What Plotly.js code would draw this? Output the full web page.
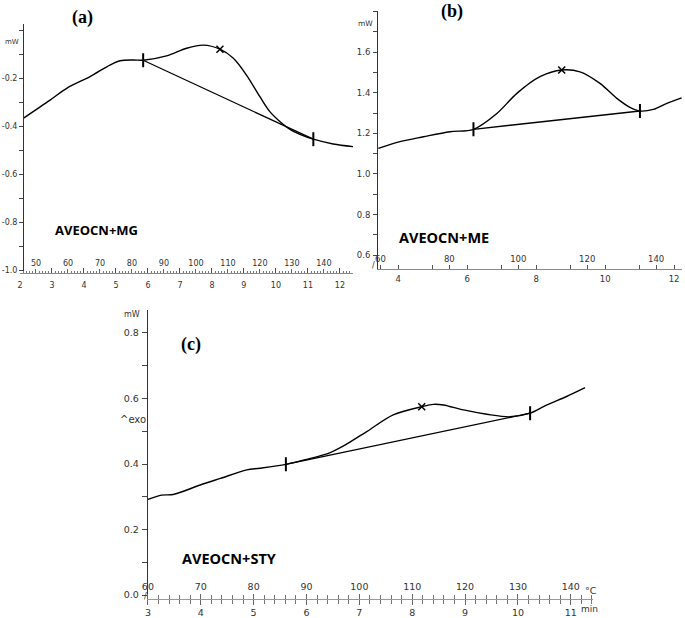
<!DOCTYPE html>
<html><head><meta charset="utf-8">
<script src="https://cdn.plot.ly/plotly-3.0.1.min.js"></script>
<style>html,body{margin:0;padding:0;background:#fff}#chart{width:685px;height:618px}</style>
</head><body><div id="chart"></div>
<script>
// ---------- Panel (a): AVEOCN+MG ----------
const timeA = [2.10,2.94,3.46,4.19,4.81,5.13,5.54,5.85,6.58,7.21,7.73,8.25,8.67,9.08,9.50,9.81,10.13,10.44,10.75,11.17,11.79,12.42];
const mwA   = [-0.368,-0.292,-0.243,-0.194,-0.146,-0.128,-0.125,-0.126,-0.108,-0.076,-0.063,-0.080,-0.118,-0.188,-0.278,-0.340,-0.382,-0.414,-0.435,-0.455,-0.475,-0.486];
const baseTimeA = [5.85,11.17];
const baseMwA   = [-0.126,-0.455];
const limitTimeA = [5.85,11.17];
const limitMwA   = [-0.126,-0.455];
const peakTimeA = [8.25];
const peakMwA   = [-0.080];
const timeTicksA = [2,3,4,5,6,7,8,9,10,11,12];
const tempTicksA = [50,60,70,80,90,100,110,120,130,140];
const yTicksA = [-1.0,-0.8,-0.6,-0.4,-0.2,0.0];
const yTextA  = ['-1.0','-0.8','-0.6','-0.4','-0.2',''];
const tempOffsetA = 25;

// ---------- Panel (b): AVEOCN+ME ----------
const timeB = [3.42,4.05,4.73,5.50,6.18,6.86,7.44,8.11,8.74,9.27,9.85,10.34,10.72,11.01,11.40,11.79,12.22];
const mwB   = [1.126,1.159,1.183,1.208,1.220,1.298,1.397,1.479,1.512,1.503,1.446,1.372,1.328,1.310,1.318,1.348,1.375];
const baseTimeB = [6.18,11.01];
const baseMwB   = [1.220,1.310];
const limitTimeB = [6.18,11.01];
const limitMwB   = [1.220,1.310];
const peakTimeB = [8.74];
const peakMwB   = [1.512];
const timeTicksB = [4,6,8,10,12];
const tempTicksB = [60,80,100,120,140];
const yTicksB = [0.6,0.8,1.0,1.2,1.4,1.6];
const tempOffsetB = 25.2;

// ---------- Panel (c): AVEOCN+STY ----------
const timeC = [3.00,3.26,3.48,3.99,4.37,4.87,5.12,5.61,6.00,6.45,6.70,7.14,7.64,8.18,8.40,8.59,8.97,9.41,9.85,10.23,10.54,10.92,11.27];
const mwC   = [0.292,0.305,0.307,0.336,0.356,0.382,0.387,0.399,0.414,0.435,0.455,0.499,0.550,0.575,0.582,0.580,0.565,0.552,0.544,0.555,0.580,0.606,0.633];
const baseTimeC = [5.61,10.23];
const baseMwC   = [0.399,0.555];
const limitTimeC = [5.61,10.23];
const limitMwC   = [0.399,0.555];
const peakTimeC = [8.18];
const peakMwC   = [0.575];
const timeTicksC = [3,4,5,6,7,8,9,10,11];
const tempTicksC = [60,70,80,90,100,110,120,130,140];
const yTicksC = [0.0,0.2,0.4,0.6,0.8];
const tempOffsetC = 30;

const heatingRate = 10; // °C per min

// ---------- helpers ----------
const W = 685, H = 618;
const PX = x => x / W;
const PY = y => 1 - y / H;
const tickFont = s => ({family: 'DejaVu Sans, Verdana, sans-serif', size: s, color: '#333'});
const lineCol = '#000';

function curve(x, y, xa, ya) {
  return {x, y, xaxis: xa, yaxis: ya, type: 'scatter', mode: 'lines',
          line: {color: lineCol, width: 1.4, shape: 'spline', smoothing: 0.9}, hoverinfo: 'skip', showlegend: false};
}
function base(x, y, xa, ya) {
  return {x, y, xaxis: xa, yaxis: ya, type: 'scatter', mode: 'lines',
          line: {color: lineCol, width: 1.3}, hoverinfo: 'skip', showlegend: false};
}
function limits(x, y, xa, ya) {
  return {x, y, xaxis: xa, yaxis: ya, type: 'scatter', mode: 'markers',
          marker: {symbol: 'line-ns', size: 10, line: {color: lineCol, width: 2}}, hoverinfo: 'skip', showlegend: false};
}
function peak(x, y, xa, ya) {
  return {x, y, xaxis: xa, yaxis: ya, type: 'scatter', mode: 'markers',
          marker: {symbol: 'x-thin', size: 7, line: {color: lineCol, width: 1.5}}, hoverinfo: 'skip', showlegend: false};
}
function empty(xa, ya) {
  return {x: [], y: [], xaxis: xa, yaxis: ya, type: 'scatter', mode: 'lines', showlegend: false, hoverinfo: 'skip'};
}

const data = [
  curve(timeA, mwA, 'x', 'y'), base(baseTimeA, baseMwA, 'x', 'y'), limits(limitTimeA, limitMwA, 'x', 'y'), peak(peakTimeA, peakMwA, 'x', 'y'),
  curve(timeB, mwB, 'x2', 'y2'), base(baseTimeB, baseMwB, 'x2', 'y2'), limits(limitTimeB, limitMwB, 'x2', 'y2'), peak(peakTimeB, peakMwB, 'x2', 'y2'),
  curve(timeC, mwC, 'x3', 'y3'), base(baseTimeC, baseMwC, 'x3', 'y3'), limits(limitTimeC, limitMwC, 'x3', 'y3'), peak(peakTimeC, peakMwC, 'x3', 'y3'),
  empty('x4', 'y'), empty('x5', 'y2'), empty('x6', 'y3')
];

const rA = [2.0, 12.41], rB = [3.411, 12.23], rC = [2.996, 11.42];
const toT = (r, off) => [r[0] * heatingRate + off, r[1] * heatingRate + off];

const common = {showgrid: false, zeroline: false, fixedrange: true};
const rulerA = 273, rulerB = 269, rulerC = 599;

const layout = {
  width: W, height: H,
  margin: {l: 0, r: 0, t: 0, b: 0},
  paper_bgcolor: '#fff', plot_bgcolor: 'rgba(0,0,0,0)',
  showlegend: false,
  xaxis: Object.assign({}, common, {
    domain: [PX(20), PX(353)], range: rA, anchor: 'y',
    tickmode: 'array', tickvals: timeTicksA, ticks: 'inside', ticklen: 5, tickcolor: '#555', tickwidth: 1,
    minor: {tickmode: 'linear', tick0: 2, dtick: 0.1, ticks: 'inside', ticklen: 2.5, tickcolor: '#777'},
    showline: true, linecolor: '#888', linewidth: 1,
    tickfont: tickFont(8), ticklabelstandoff: 4
  }),
  xaxis4: Object.assign({}, common, {
    overlaying: 'x', anchor: 'free', position: PY(rulerA), side: 'top', range: toT(rA, tempOffsetA),
    tickmode: 'array', tickvals: tempTicksA, ticks: 'outside', ticklen: 4, tickcolor: '#666', ticklabelstandoff: 0,
    showline: false, tickfont: tickFont(8)
  }),
  yaxis: Object.assign({}, common, {
    domain: [PY(rulerA), PY(24)], range: [-1.0125, 0.025], anchor: 'free', position: PX(23),
    tickmode: 'array', tickvals: yTicksA, ticktext: yTextA, ticks: 'outside', ticklen: 4, tickcolor: '#444',
    minor: {tickmode: 'linear', tick0: 0, dtick: 0.1, ticks: 'outside', ticklen: 4, tickcolor: '#444'},
    showline: true, linecolor: '#333', linewidth: 1, tickfont: tickFont(8), ticklabelstandoff: 0
  }),

  xaxis2: Object.assign({}, common, {
    domain: [PX(378), PX(682)], range: rB, anchor: 'y2',
    tickmode: 'array', tickvals: timeTicksB, ticks: 'inside', ticklen: 4, tickcolor: '#555',
    minor: {tickmode: 'linear', tick0: 3, dtick: 1, ticks: 'inside', ticklen: 4, tickcolor: '#555'},
    showline: true, linecolor: '#888', linewidth: 1,
    tickfont: tickFont(8.5), ticklabelstandoff: 2
  }),
  xaxis5: Object.assign({}, common, {
    overlaying: 'x2', anchor: 'free', position: PY(rulerB), side: 'top', range: toT(rB, tempOffsetB),
    tickmode: 'array', tickvals: tempTicksB, ticks: 'outside', ticklen: 4, tickcolor: '#555', ticklabelstandoff: 0,
    showline: false, tickfont: tickFont(8.5)
  }),
  yaxis2: Object.assign({}, common, {
    domain: [PY(rulerB), PY(10.7)], range: [0.532, 1.804], anchor: 'x2',
    tickmode: 'array', tickvals: yTicksB, tickformat: '.1f', ticks: 'outside', ticklen: 4, tickcolor: '#444',
    minor: {tickmode: 'linear', tick0: 0.5, dtick: 0.1, ticks: 'outside', ticklen: 4, tickcolor: '#444'},
    showline: true, linecolor: '#333', linewidth: 1, tickfont: tickFont(8.5), ticklabelstandoff: 1
  }),

  xaxis3: Object.assign({}, common, {
    domain: [PX(147.7), PX(593)], range: rC, anchor: 'y3',
    tickmode: 'array', tickvals: timeTicksC, ticks: 'outside', ticklen: 5, tickcolor: '#666',
    minor: {tickmode: 'linear', tick0: 3, dtick: 0.2, ticks: 'outside', ticklen: 4, tickcolor: '#777'},
    showline: true, linecolor: '#999', linewidth: 1,
    tickfont: tickFont(9.5), ticklabelstandoff: 0
  }),
  xaxis6: Object.assign({}, common, {
    overlaying: 'x3', anchor: 'free', position: PY(rulerC), side: 'top', range: toT(rC, tempOffsetC),
    tickmode: 'array', tickvals: tempTicksC, ticks: 'outside', ticklen: 5, tickcolor: '#666', ticklabelstandoff: 0,
    minor: {tickmode: 'linear', tick0: 60, dtick: 2, ticks: 'outside', ticklen: 4, tickcolor: '#777'},
    showline: false, tickfont: tickFont(9.5)
  }),
  yaxis3: Object.assign({}, common, {
    domain: [PY(rulerC), PY(310)], range: [-0.012, 0.870], anchor: 'x3',
    tickmode: 'array', tickvals: yTicksC, tickformat: '.1f', ticks: 'outside', ticklen: 5, tickcolor: '#444',
    minor: {tickmode: 'linear', tick0: 0, dtick: 0.1, ticks: 'outside', ticklen: 5, tickcolor: '#444'},
    showline: true, linecolor: '#333', linewidth: 1, tickfont: tickFont(9.5), ticklabelstandoff: 1
  }),

  annotations: [
    {text: '<b>(a)</b>', x: PX(82), y: PY(18), font: {family: 'Liberation Serif, Times New Roman, serif', size: 18, color: '#000'}},
    {text: '<b>(b)</b>', x: PX(452), y: PY(12), font: {family: 'Liberation Serif, Times New Roman, serif', size: 18, color: '#000'}},
    {text: '<b>(c)</b>', x: PX(191), y: PY(344), font: {family: 'Liberation Serif, Times New Roman, serif', size: 18, color: '#000'}},
    {text: '<b>AVEOCN+MG</b>', x: PX(53), y: PY(230), xanchor: 'left', font: {family: 'Open Sans, sans-serif', size: 13, color: '#000'}},
    {text: '<b>AVEOCN+ME</b>', x: PX(397), y: PY(237), xanchor: 'left', font: {family: 'Open Sans, sans-serif', size: 14.5, color: '#000'}},
    {text: '<b>AVEOCN+STY</b>', x: PX(180), y: PY(558), xanchor: 'left', font: {family: 'Open Sans, sans-serif', size: 14.5, color: '#000'}},
    {text: 'mW', x: PX(12.5), y: PY(41.5), font: tickFont(7)},
    {text: 'mW', x: PX(366), y: PY(24), font: tickFont(7.5)},
    {text: 'mW', x: PX(132), y: PY(314), font: tickFont(8)},
    {text: '^exo', x: PX(133), y: PY(419), font: tickFont(10)},
    {text: '°C', x: PX(591), y: PY(590), font: tickFont(9.5)},
    {text: 'min', x: PX(589), y: PY(609), font: tickFont(9)},
    {text: '/', x: PX(373), y: PY(265), font: tickFont(8)},
    {text: '/', x: PX(145), y: PY(596), font: tickFont(8)}
  ].map(a => Object.assign({xref: 'paper', yref: 'paper', showarrow: false, xanchor: 'center', yanchor: 'middle'}, a))
};

Plotly.newPlot('chart', data, layout, {displayModeBar: false, staticPlot: true});
</script>
</body></html>
